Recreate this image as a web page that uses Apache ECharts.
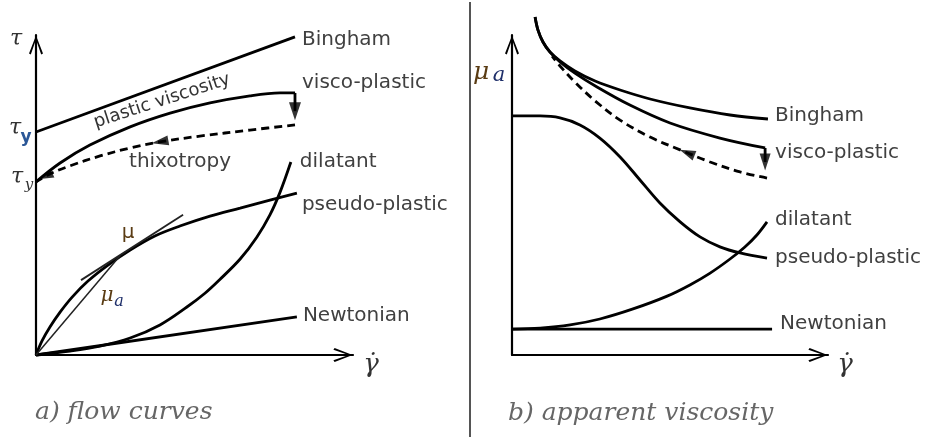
<!DOCTYPE html>
<html><head><meta charset="utf-8">
<script src="https://cdn.jsdelivr.net/npm/echarts@6/dist/echarts.min.js"></script>
<style>html,body{margin:0;padding:0;background:#fff}#c{width:928px;height:437px}</style>
</head><body><div id="c"></div>
<script>
// ---- a) flow curves: shear stress vs shear rate (arbitrary units, 0-100) ----
const flowLabels = ['Bingham', 'visco-plastic', 'dilatant', 'pseudo-plastic', 'Newtonian'];
const flowBingham = [[0, 69.7], [81.7, 99.4]];
const flowVisco = [[0, 54.1], [7.6, 60], [17, 65.6], [29.7, 71.3], [42.3, 75.6], [54.9, 78.8], [67.5, 81], [77, 81.9], [81.7, 81.9]];
const flowViscoDrop = [[81.7, 81.9], [81.7, 76.2]];
const flowThixo = [[81.7, 71.9], [67.5, 70.3], [51.7, 68.4], [39.1, 66.6], [29.7, 64.7], [20.2, 62.2], [10.7, 59.1], [4.4, 56.6], [0, 54.1]];
const flowArrows = [[39.1, 66.6, 100, 10, 17], [3.2, 55.9, 114, 9, 14], [81.7, 76.2, 180, 12, 18]];
const flowDilatant = [[0, 0], [10.7, 1.25], [20.2, 2.8], [29.7, 5.3], [39.1, 9.4], [47.6, 15.0], [53.3, 19.3], [58.0, 23.6], [64.4, 30.0], [69.7, 36.9], [73.8, 43.8], [77.0, 50.9], [80.4, 60.3]];
const flowPseudo = [[0, 0], [1.9, 4.4], [4.4, 8.75], [7.6, 13.4], [11.4, 18.1], [16.4, 23.1], [22.7, 28.1], [29.7, 32.8], [37.5, 37.2], [45.4, 40.3], [54.9, 43.4], [64.4, 45.9], [73.8, 48.4], [82.3, 50.6]];
const flowNewtonian = [[0, 0], [82.3, 11.9]];
const flowTangent = [[14.2, 23.4], [46.4, 43.8]];
const flowSecant = [[0, 0], [26.5, 31]];

// ---- b) apparent viscosity vs shear rate ----
const viscLabels = ['Bingham', 'visco-plastic', 'dilatant', 'pseudo-plastic', 'Newtonian'];
const viscBingham = [[7.3, 105.6], [8.2, 101.6], [9.8, 97.8], [12.0, 94.7], [15.2, 91.9], [19.9, 88.75], [26.3, 85.6], [34.2, 82.8], [43.7, 80.0], [56.3, 77.2], [69.0, 75.0], [81.0, 73.75]];
const viscVisco = [[7.3, 105.6], [8.2, 101.6], [9.8, 97.8], [12.0, 94.7], [15.2, 91.6], [19.9, 88.1], [26.9, 83.75], [37.3, 78.1], [50.0, 72.5], [65.8, 67.8], [80.1, 64.7]];
const viscViscoDrop = [[80.1, 64.7], [80.1, 60.3]];
const viscThixo = [[80.7, 55.3], [72.2, 57.2], [62.7, 60.3], [53.2, 64.1], [43.7, 68.1], [34.2, 73.4], [26.3, 79.4], [19.9, 85.3], [15.2, 90.3], [12.7, 93.4]];
const viscArrows = [[55.4, 63.2, 68, 10, 16], [80.1, 60.3, 180, 11, 17]];
const viscDilatant = [[0, 8.1], [8.9, 8.4], [18.4, 9.4], [27.8, 11.25], [38.3, 14.4], [49.1, 18.4], [56.3, 21.9], [62.7, 25.6], [69.0, 30.0], [73.7, 33.75], [77.5, 37.5], [80.7, 41.6]];
const viscPseudo = [[0, 74.7], [8.9, 74.7], [15.2, 74.1], [21.5, 71.9], [27.8, 67.8], [34.2, 61.9], [40.5, 54.7], [46.8, 47.5], [53.2, 41.6], [59.5, 36.9], [65.8, 33.8], [72.2, 31.9], [80.7, 30.3]];
const viscNewtonian = [[0, 8.1], [82.3, 8.1]];

const ARROW = 'path://M7,0 L14,18 L12.2,19.2 L7,4 L1.8,19.2 L0,18 Z';
const LABEL_FONT = 'DejaVu Sans';
const INK = '#000';
const TXT = '#404040';
const LW = 2.8;

function axis(gi) {
  return {
    gridIndex: gi, type: 'value', min: 0, max: 100,
    axisLine: { show: true, onZero: false, symbol: ['none', ARROW], symbolSize: [14, 20], symbolOffset: [0, -10],
      lineStyle: { color: INK, width: 2.2 } },
    axisTick: { show: false }, axisLabel: { show: false }, splitLine: { show: false }
  };
}
function line(data, gi, extra) {
  return Object.assign({
    type: 'line', xAxisIndex: gi, yAxisIndex: gi, data: data, symbol: 'none', clip: false,
    smooth: 0.35, silent: true, lineStyle: { color: INK, width: LW }
  }, extra || {});
}
function endLabel(text, dy, dist) {
  return { endLabel: { show: true, formatter: text, distance: dist == null ? 7 : dist, offset: [0, dy],
    color: TXT, fontFamily: LABEL_FONT, fontSize: 20 } };
}
function arrows(list, gi) {
  return {
    type: 'scatter', xAxisIndex: gi, yAxisIndex: gi, clip: false, silent: true, symbol: 'triangle',
    itemStyle: { color: INK },
    data: list.map(a => ({ value: [a[0], a[1]], symbolRotate: a[2], symbolSize: [a[3], a[4]] }))
  };
}
const dashed = { color: INK, width: LW, type: [8, 5] };

const series = [
  line(flowBingham, 0, endLabel(flowLabels[0], 3)),
  line(flowVisco, 0, endLabel(flowLabels[1], -10)),
  line(flowViscoDrop, 0, { smooth: false }),
  line(flowThixo, 0, { lineStyle: dashed }),
  line(flowDilatant, 0, endLabel(flowLabels[2], 0, 9)),
  line(flowPseudo, 0, endLabel(flowLabels[3], 12, 5)),
  line(flowNewtonian, 0, endLabel(flowLabels[4], -1, 6)),
  line(flowTangent, 0, { lineStyle: { color: '#222', width: 1.8 } }),
  line(flowSecant, 0, { lineStyle: { color: '#222', width: 1.5 } }),
  arrows(flowArrows, 0),

  line(viscBingham, 1, endLabel(viscLabels[0], -3, 7)),
  line(viscVisco, 1, endLabel(viscLabels[1], 5, 10)),
  line(viscViscoDrop, 1, { smooth: false }),
  line(viscThixo, 1, { lineStyle: dashed }),
  line(viscDilatant, 1, endLabel(viscLabels[2], -2, 8)),
  line(viscPseudo, 1, endLabel(viscLabels[3], 0, 8)),
  line(viscNewtonian, 1, endLabel(viscLabels[4], -5, 8)),
  arrows(viscArrows, 1)
];

function txt(x, y, text, o) {
  o = o || {};
  return { type: 'text', x: x, y: y, rotation: o.rot || 0, silent: true,
    style: { text: text, fill: o.fill || TXT, fontFamily: o.family || LABEL_FONT, fontSize: o.size || 20,
      fontStyle: o.style || 'normal', fontWeight: o.weight || 'normal', align: o.align || 'center', verticalAlign: 'middle' } };
}
const SERIF = 'DejaVu Serif';
const graphic = [
  { type: 'line', silent: true, shape: { x1: 470, y1: 2, x2: 470, y2: 437 }, style: { stroke: '#555', lineWidth: 2 } },
  txt(16, 39, 'τ', { family: SERIF, style: 'italic', size: 22, fill: '#333' }),
  txt(15, 128, 'τ', { family: SERIF, style: 'italic', size: 22, fill: '#333' }),
  txt(26, 138, 'y', { family: LABEL_FONT, size: 17, weight: 'bold', fill: '#2b5797' }),
  txt(17, 177, 'τ', { family: SERIF, style: 'italic', size: 22, fill: '#333' }),
  txt(29, 185, 'y', { family: SERIF, style: 'italic', size: 15, fill: '#333' }),
  txt(128, 233, 'μ', { family: LABEL_FONT, size: 20, fill: '#5a3c14' }),
  txt(107, 296, 'μ', { family: SERIF, style: 'italic', size: 20, fill: '#5a3c14' }),
  txt(119, 302, 'a', { family: SERIF, style: 'italic', size: 16, fill: '#1f2f6a' }),
  txt(481, 72, 'μ', { family: SERIF, style: 'italic', size: 25, fill: '#5a3c14' }),
  txt(499, 76, 'a', { family: SERIF, style: 'italic', size: 21, fill: '#1f2f6a' }),
  txt(371, 365, 'γ̇', { family: SERIF, style: 'italic', size: 26, fill: '#333' }),
  txt(845, 365, 'γ̇', { family: SERIF, style: 'italic', size: 26, fill: '#333' }),
  txt(162, 101, 'plastic viscosity', { size: 18, fill: '#333', rot: 18 * Math.PI / 180 }),
  txt(180, 162, 'thixotropy', { size: 20 }),
  txt(35, 412, 'a) flow curves', { family: SERIF, style: 'italic', size: 25, fill: '#666', align: 'left' }),
  txt(508, 413, 'b) apparent viscosity', { family: SERIF, style: 'italic', size: 25, fill: '#666', align: 'left' })
];

const chart = echarts.init(document.getElementById('c'), null, { renderer: 'canvas' });
chart.setOption({
  animation: false,
  backgroundColor: '#fff',
  grid: [{ left: 36, top: 35, width: 317, height: 320 }, { left: 512, top: 35, width: 316, height: 320 }],
  xAxis: [axis(0), axis(1)],
  yAxis: [axis(0), axis(1)],
  series: series,
  graphic: graphic
});
</script></body></html>
